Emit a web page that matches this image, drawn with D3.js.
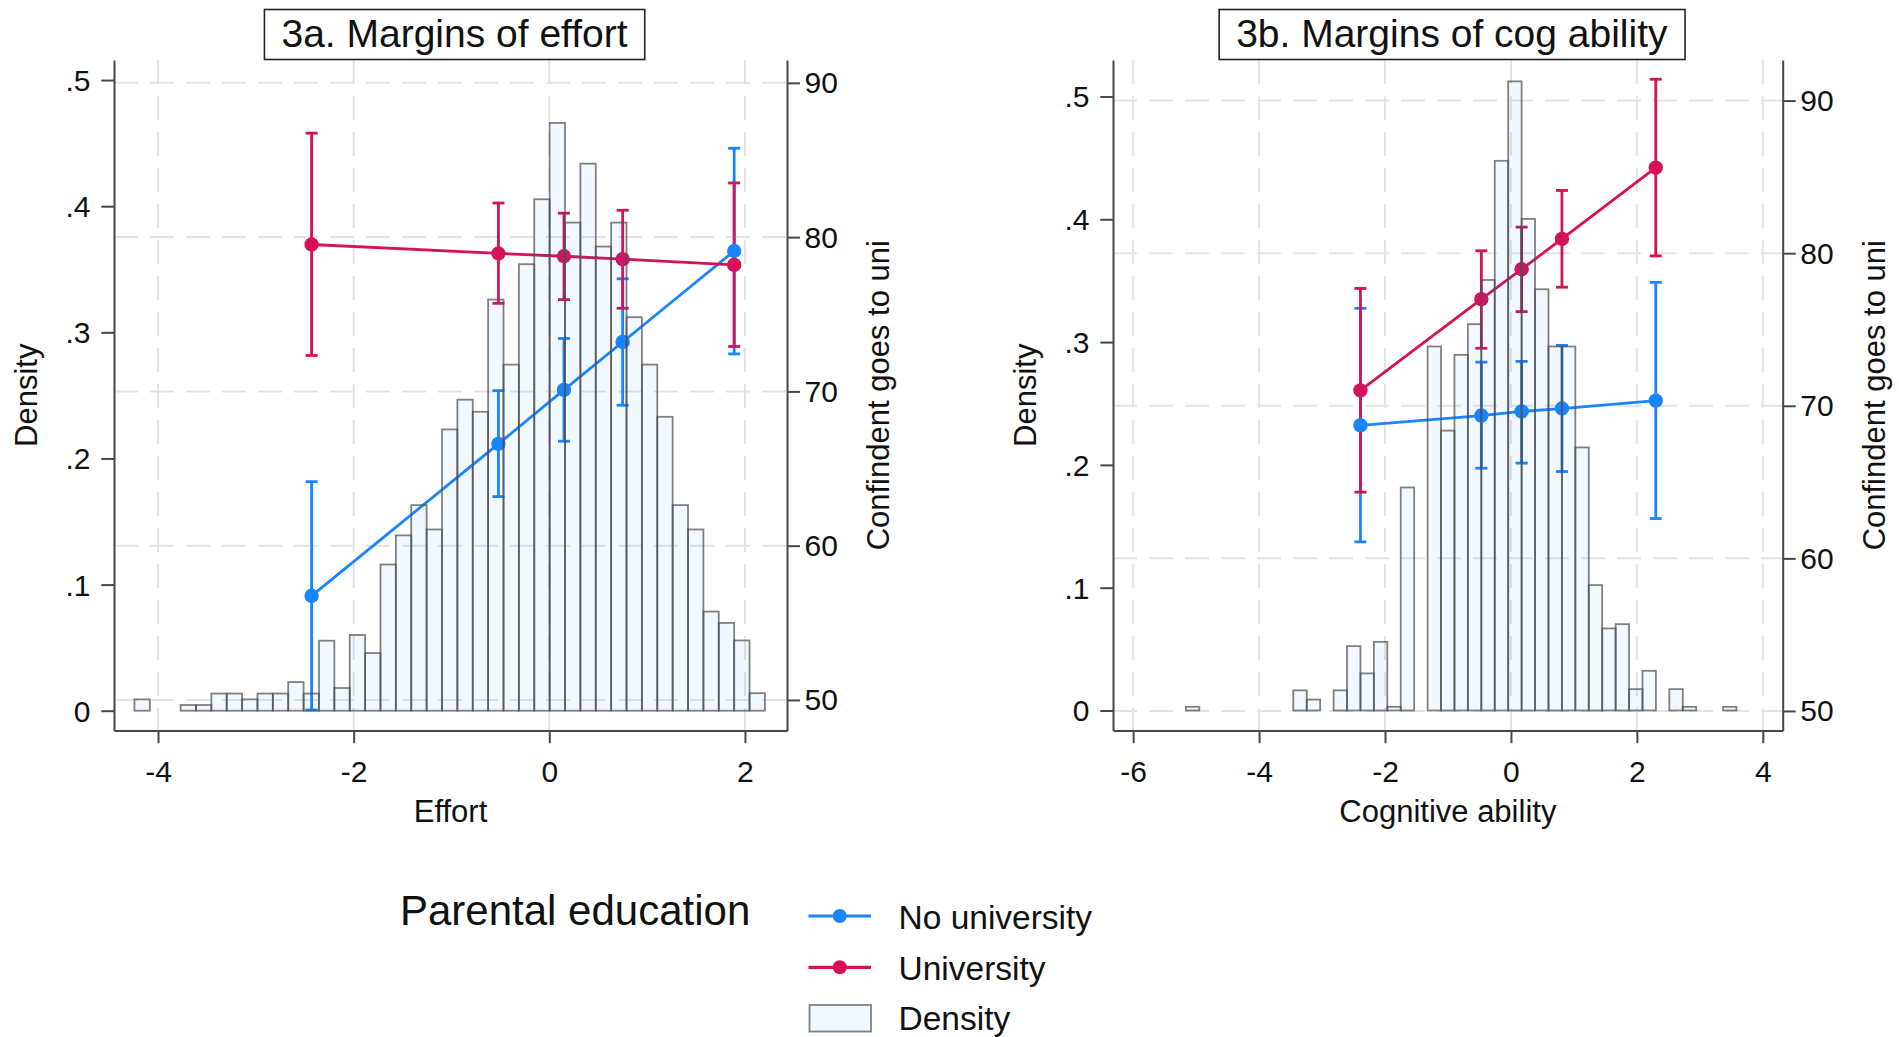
<!DOCTYPE html>
<html>
<head>
<meta charset="utf-8">
<script src="https://cdn.jsdelivr.net/npm/d3@7"></script>
<style>
  body { margin: 0; background: #fff; }
  svg { display: block; }
  text { font-family: "Liberation Sans", Arial, sans-serif; fill: #111; }
</style>
</head>
<body>
<svg id="chart" width="1899" height="1037"></svg>
<script>
// ---------- Data ----------
// Effort histogram: 41 equal-width bins (density scale)
const effortBinStart = -4.241;
const effortBinWidth = 0.1572;
const effortDensity = [
  0.009, 0, 0, 0.0045, 0.0045, 0.0136, 0.0136, 0.009, 0.0136, 0.0136,
  0.0227, 0.0136, 0.0555, 0.018, 0.060, 0.0457, 0.1159, 0.139, 0.163, 0.1437,
  0.223, 0.2466, 0.237, 0.326, 0.2744, 0.354, 0.4055, 0.466, 0.387, 0.4337,
  0.368, 0.387, 0.312, 0.2744, 0.233, 0.163, 0.1437, 0.0786, 0.0696, 0.0557,
  0.0139
];

// Cognitive ability histogram: 41 equal-width bins (density scale)
const cogBinStart = -5.163;
const cogBinWidth = 0.2133;
const cogDensity = [
  0.003, 0, 0, 0, 0, 0, 0, 0, 0.0164, 0.0089,
  0, 0.0164, 0.0524, 0.0302, 0.0559, 0.003, 0.1816, 0, 0.2964, 0.2279,
  0.2896, 0.3146, 0.3506, 0.4476, 0.5123, 0.4003, 0.343, 0.2964, 0.2964, 0.2142,
  0.1021, 0.0668, 0.0703, 0.0174, 0.0323, 0, 0.0174, 0.003, 0, 0,
  0.003
];

// Predictive margins of "Confindent goes to uni" at values of effort
const effortAt = [-2.43, -0.52, 0.15, 0.75, 1.89];
const effortNoUni = [56.75, 66.6, 70.1, 73.2, 79.1];
const effortNoUniLo = [49.35, 63.18, 66.77, 69.1, 72.43];
const effortNoUniHi = [64.15, 70.05, 73.43, 77.3, 85.76];
const effortUni = [79.52, 78.94, 78.76, 78.57, 78.2];
const effortUniLo = [72.33, 75.71, 75.95, 75.39, 72.91];
const effortUniHi = [86.74, 82.21, 81.55, 81.74, 83.51];

// Predictive margins at values of cognitive ability
const cogAt = [-2.39, -0.47, 0.17, 0.81, 2.30];
const cogNoUni = [68.72, 69.36, 69.63, 69.82, 70.34];
const cogNoUniLo = [61.08, 65.91, 66.24, 65.69, 62.61];
const cogNoUniHi = [76.39, 72.86, 72.91, 73.96, 78.09];
const cogUni = [71.01, 76.99, 78.95, 80.94, 85.61];
const cogUniLo = [64.34, 73.77, 76.17, 77.77, 79.82];
const cogUniHi = [77.69, 80.16, 81.71, 84.11, 91.4];

// Tick values
const densityTicks = [0, 0.1, 0.2, 0.3, 0.4, 0.5];
const confTicks = [50, 60, 70, 80, 90];
const effortTicks = [-4, -2, 0, 2];
const cogTicks = [-6, -4, -2, 0, 2, 4];

// Labels
const seriesNames = ["No university", "University"];
const histName = "Density";
const legendTitle = "Parental education";

// ---------- Style ----------
const BLUE = "#1A85FF";
const RED = "#D41159";
const AXIS = "#474747";
const GRID = "#e3e3e3";
const FONT = "\"Liberation Sans\", Arial, sans-serif";

const svg = d3.select("#chart");

const fmtDensity = d => d === 0 ? "0" : d3.format(".1f")(d).replace(/^0/, "");
const fmtInt = d => String(d);   // plain hyphen for negatives

function drawPanel(cfg) {
  const g = svg.append("g");
  const top = 60, bottom = 730.5;
  const x = d3.scaleLinear().domain(cfg.xDomain).range([cfg.left, cfg.right]);
  const yL = d3.scaleLinear().domain(cfg.yLeftDomain).range([bottom, top]);
  const yR = d3.scaleLinear().domain(cfg.yRightDomain).range([bottom, top]);

  // grid: vertical at x ticks, horizontal at right-axis ticks
  g.append("g").selectAll("line").data(cfg.xTicks).join("line")
    .attr("x1", d => x(d)).attr("x2", d => x(d))
    .attr("y1", top).attr("y2", bottom)
    .attr("stroke", GRID).attr("stroke-width", 2).attr("stroke-dasharray", "24,12");
  g.append("g").selectAll("line").data(confTicks).join("line")
    .attr("x1", cfg.left).attr("x2", cfg.right)
    .attr("y1", d => yR(d)).attr("y2", d => yR(d))
    .attr("stroke", GRID).attr("stroke-width", 2).attr("stroke-dasharray", "24,12");

  const series = [
    { color: BLUE, at: cfg.at, est: cfg.noUni, lo: cfg.noUniLo, hi: cfg.noUniHi },
    { color: RED, at: cfg.at, est: cfg.uni, lo: cfg.uniLo, hi: cfg.uniHi }
  ];

  // confidence intervals (capped spikes)
  const capHalf = 6;
  series.forEach(s => {
    const ci = g.append("g").attr("stroke", s.color).attr("stroke-width", 2.8).attr("fill", "none");
    s.at.forEach((v, i) => {
      const cx = x(v);
      ci.append("line").attr("x1", cx).attr("x2", cx).attr("y1", yR(s.lo[i])).attr("y2", yR(s.hi[i]));
      ci.append("line").attr("x1", cx - capHalf).attr("x2", cx + capHalf).attr("y1", yR(s.lo[i])).attr("y2", yR(s.lo[i]));
      ci.append("line").attr("x1", cx - capHalf).attr("x2", cx + capHalf).attr("y1", yR(s.hi[i])).attr("y2", yR(s.hi[i]));
    });
  });

  // connected lines with markers
  series.forEach(s => {
    const pts = s.at.map((v, i) => [v, s.est[i]]);
    g.append("path").datum(pts)
      .attr("d", d3.line().x(d => x(d[0])).y(d => yR(d[1])))
      .attr("fill", "none").attr("stroke", s.color).attr("stroke-width", 2.8);
    g.append("g").selectAll("circle").data(pts).join("circle")
      .attr("cx", d => x(d[0])).attr("cy", d => yR(d[1])).attr("r", 7.2)
      .attr("fill", s.color);
  });

  // histogram (drawn over the margins with translucent fill)
  const bins = cfg.density.map((d, k) => ({
    x0: cfg.binStart + k * cfg.binWidth,
    x1: cfg.binStart + (k + 1) * cfg.binWidth,
    d
  })).filter(b => b.d > 0);
  g.append("g").selectAll("rect").data(bins).join("rect")
    .attr("x", b => x(b.x0)).attr("width", b => x(b.x1) - x(b.x0))
    .attr("y", b => yL(b.d)).attr("height", b => yL(0) - yL(b.d))
    .attr("fill", BLUE).attr("fill-opacity", 0.055)
    .attr("stroke", "#505050").attr("stroke-opacity", 0.72).attr("stroke-width", 1.8);

  // axes
  const styleAxis = (sel) => {
    sel.select(".domain").attr("stroke", AXIS).attr("stroke-width", 2);
    sel.selectAll(".tick line").attr("stroke", AXIS).attr("stroke-width", 2);
    sel.selectAll(".tick text").attr("font-size", 30).attr("font-family", FONT).attr("fill", "#111");
  };

  g.append("g").attr("transform", `translate(${cfg.left},0)`)
    .call(d3.axisLeft(yL).tickValues(densityTicks).tickFormat(fmtDensity)
      .tickSize(12.7).tickSizeOuter(0).tickPadding(10.8))
    .call(styleAxis)
    .call(s => s.selectAll(".tick text").attr("dy", "0.35em"));

  g.append("g").attr("transform", `translate(${cfg.right},0)`)
    .call(d3.axisRight(yR).tickValues(confTicks).tickFormat(fmtInt)
      .tickSize(13).tickSizeOuter(0).tickPadding(4.5))
    .call(styleAxis)
    .call(s => s.selectAll(".tick text").attr("dy", "0.33em"));

  g.append("g").attr("transform", `translate(0,${bottom})`)
    .call(d3.axisBottom(x).tickValues(cfg.xTicks).tickFormat(fmtInt)
      .tickSize(12.7).tickSizeOuter(0).tickPadding(17))
    .call(styleAxis);

  // axis titles
  const midX = (cfg.left + cfg.right) / 2;
  const midY = (top + bottom) / 2;
  g.append("text").attr("x", midX).attr("y", 821.7)
    .attr("text-anchor", "middle").attr("font-size", 31).text(cfg.xTitle);
  g.append("text").attr("transform", `translate(${cfg.left - 77},${midY}) rotate(-90)`)
    .attr("text-anchor", "middle").attr("font-size", 31).text("Density");
  g.append("text").attr("transform", `translate(${cfg.right + 102},${midY}) rotate(-90)`)
    .attr("text-anchor", "middle").attr("font-size", 31).text("Confindent goes to uni");

  // boxed panel title
  const tg = g.append("g");
  const box = tg.append("rect");
  const tt = tg.append("text").attr("x", midX + 4).attr("y", 46.7)
    .attr("text-anchor", "middle").attr("font-size", 39).text(cfg.title);
  const bb = tt.node().getBBox();
  box.attr("x", bb.x - 17).attr("width", bb.width + 34)
    .attr("y", 9.5).attr("height", 50)
    .attr("fill", "#fff").attr("stroke", "#222").attr("stroke-width", 1.6);
}

drawPanel({
  title: "3a. Margins of effort",
  xTitle: "Effort",
  left: 114, right: 787,
  xDomain: [-4.45, 2.43],
  yLeftDomain: [-0.0157, 0.5159],
  yRightDomain: [48.02, 91.48],
  xTicks: effortTicks,
  binStart: effortBinStart, binWidth: effortBinWidth, density: effortDensity,
  at: effortAt,
  noUni: effortNoUni, noUniLo: effortNoUniLo, noUniHi: effortNoUniHi,
  uni: effortUni, uniLo: effortUniLo, uniHi: effortUniHi
});

drawPanel({
  title: "3b. Margins of cog ability",
  xTitle: "Cognitive ability",
  left: 1113, right: 1782.7,
  xDomain: [-6.32, 4.316],
  yLeftDomain: [-0.0163, 0.5297],
  yRightDomain: [48.72, 92.66],
  xTicks: cogTicks,
  binStart: cogBinStart, binWidth: cogBinWidth, density: cogDensity,
  at: cogAt,
  noUni: cogNoUni, noUniLo: cogNoUniLo, noUniHi: cogNoUniHi,
  uni: cogUni, uniLo: cogUniLo, uniHi: cogUniHi
});

// ---------- Legend ----------
const lg = svg.append("g");
lg.append("text").attr("x", 400).attr("y", 925).attr("font-size", 42).text(legendTitle);

const keyX0 = 808.5, keyX1 = 871, labelX = 898.5;
const legendRows = [
  { name: seriesNames[0], color: BLUE, cy: 916, base: 929 },
  { name: seriesNames[1], color: RED, cy: 967.3, base: 980 }
];
legendRows.forEach(r => {
  lg.append("line").attr("x1", keyX0).attr("x2", keyX1).attr("y1", r.cy).attr("y2", r.cy)
    .attr("stroke", r.color).attr("stroke-width", 3.2);
  lg.append("circle").attr("cx", (keyX0 + keyX1) / 2).attr("cy", r.cy).attr("r", 7)
    .attr("fill", r.color);
  lg.append("text").attr("x", labelX).attr("y", r.base).attr("font-size", 33.5).text(r.name);
});
lg.append("rect").attr("x", 809.5).attr("y", 1005).attr("width", 61.5).attr("height", 26.5)
  .attr("fill", BLUE).attr("fill-opacity", 0.055)
  .attr("stroke", "#505050").attr("stroke-opacity", 0.72).attr("stroke-width", 1.8);
lg.append("text").attr("x", labelX).attr("y", 1030).attr("font-size", 33.5).text(histName);
</script>
</body>
</html>
